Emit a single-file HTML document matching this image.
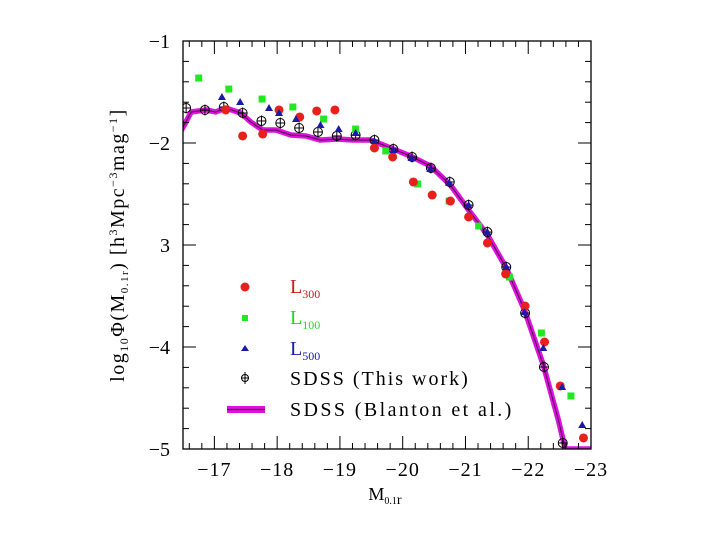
<!DOCTYPE html>
<html><head><meta charset="utf-8">
<style>
html,body{margin:0;padding:0;background:#fff;}
svg{display:block;}
text{font-family:"Liberation Serif",serif;}
</style></head>
<body>
<svg id="chart" width="720" height="540" viewBox="0 0 720 540" xmlns="http://www.w3.org/2000/svg">
<defs><clipPath id="clip"><rect x="183" y="41" width="408" height="408"/></clipPath></defs>
<g id="plot" clip-path="url(#clip)"></g>
<rect x="183" y="41" width="408" height="408" fill="none" stroke="#000" stroke-width="1.3"/>
<g id="axes"></g>
<text x="385" y="500" font-size="18" text-anchor="middle">M<tspan font-size="10" dy="4">0.1</tspan><tspan font-size="14">r</tspan></text>
<text transform="translate(124,245) rotate(-90)" font-size="20" letter-spacing="1.5" text-anchor="middle">log<tspan font-size="12" dy="4">10</tspan><tspan dy="-4">Φ(M</tspan><tspan font-size="11" dy="4">0.1r</tspan><tspan dy="-4">)  [h</tspan><tspan font-size="12" dy="-7">3</tspan><tspan dy="7">Mpc</tspan><tspan font-size="12" dy="-7">−3</tspan><tspan dy="7">mag</tspan><tspan font-size="12" dy="-7">−1</tspan><tspan dy="7">]</tspan></text>
<g>
  <circle cx="245" cy="287" r="4.5" fill="#e8201c"/>
  <text x="290" y="293" font-size="20" fill="#c8201c">L<tspan font-size="12" dy="5">300</tspan></text>
  <rect x="242" y="315" width="6" height="6" fill="#22e822"/>
  <text x="290" y="324" font-size="20" fill="#22d822">L<tspan font-size="12" dy="5">100</tspan></text>
  <polygon points="245,345 249,351 241,351" fill="#1a1aa8"/>
  <text x="290" y="355" font-size="20" fill="#1a1aa8">L<tspan font-size="12" dy="5">500</tspan></text>
  <g stroke="#000" fill="none" stroke-width="1"><circle cx="245" cy="378" r="3.5"/><line x1="241" y1="378" x2="249" y2="378"/><line x1="245" y1="372" x2="245" y2="384"/></g>
  <text x="290" y="385" font-size="20" letter-spacing="2">SDSS (This work)</text>
  <rect x="227" y="406" width="38" height="7" fill="#e010e0"/>
  <line x1="227" y1="409.5" x2="265" y2="409.5" stroke="#501050" stroke-width="1.2"/>
  <text x="290" y="416" font-size="20" letter-spacing="2.4">SDSS (Blanton et al.)</text>
</g>
</svg>
<script>
const xTicks=[-17,-18,-19,-20,-21,-22,-23];
const yTicks=[-1,-2,-3,-4,-5];
const yTickLabels=["−1","−2","3","−4","−5"];
const sdssM=[-16.55,-16.85,-17.15,-17.45,-17.75,-18.05,-18.35,-18.65,-18.95,-19.25,-19.55,-19.85,-20.15,-20.45,-20.75,-21.05,-21.35,-21.65,-21.95,-22.25,-22.55];
const sdssPhi=[-1.657,-1.676,-1.647,-1.706,-1.784,-1.804,-1.853,-1.892,-1.931,-1.922,-1.971,-2.059,-2.137,-2.245,-2.382,-2.608,-2.873,-3.216,-3.667,-4.196,-4.941];
const l300M=[-17.18,-17.45,-17.77,-18.03,-18.36,-18.63,-18.92,-19.55,-19.84,-20.17,-20.47,-20.76,-21.05,-21.35,-21.64,-21.95,-22.26,-22.51,-22.88];
const l300Phi=[-1.676,-1.931,-1.912,-1.676,-1.745,-1.686,-1.676,-2.049,-2.137,-2.382,-2.510,-2.569,-2.725,-2.980,-3.284,-3.598,-3.951,-4.382,-4.892];
const l100M=[-16.75,-17.23,-17.76,-18.25,-18.74,-19.25,-19.73,-20.24,-20.74,-21.21,-21.70,-22.21,-22.68];
const l100Phi=[-1.363,-1.471,-1.569,-1.647,-1.765,-1.863,-2.078,-2.402,-2.569,-2.814,-3.314,-3.863,-4.480];
const l500M=[-17.12,-17.41,-17.87,-18.03,-18.30,-18.69,-18.98,-19.25,-19.55,-19.85,-20.14,-20.44,-20.74,-21.05,-21.35,-21.65,-21.94,-22.24,-22.54,-22.86];
const l500Phi=[-1.549,-1.598,-1.657,-1.706,-1.765,-1.824,-1.863,-1.902,-1.980,-2.069,-2.147,-2.255,-2.392,-2.608,-2.873,-3.216,-3.657,-4.010,-4.392,-4.765];
const blantonM=[-16.45,-16.52,-16.63,-16.87,-17.02,-17.18,-17.42,-17.58,-17.77,-17.98,-18.22,-18.46,-18.69,-18.96,-19.20,-19.49,-19.81,-20.12,-20.44,-20.76,-21.05,-21.35,-21.65,-21.94,-22.24,-22.48,-22.59,-23.1];
const blantonPhi=[-1.90,-1.824,-1.696,-1.676,-1.696,-1.657,-1.706,-1.794,-1.873,-1.873,-1.922,-1.931,-1.971,-1.961,-1.971,-1.971,-2.049,-2.127,-2.225,-2.412,-2.657,-2.902,-3.225,-3.637,-4.176,-4.716,-5.0,-5.0];

const NS="http://www.w3.org/2000/svg";
const X0=183,X1=591,Y0=41,Y1=449,xmin=-16.5,xmax=-23.0,ymin=-5,ymax=-1;
function sx(m){return X0+(m-xmin)/(xmax-xmin)*(X1-X0);}
function sy(v){return Y1-(v-ymin)/(ymax-ymin)*(Y1-Y0);}
function mk(tag,attrs,parent){const e=document.createElementNS(NS,tag);for(const k in attrs)e.setAttribute(k,attrs[k]);parent.appendChild(e);return e;}
const plot=document.getElementById('plot'),axes=document.getElementById('axes');

for(let i=0;i<=33;i++){
  const m=-16.6-0.2*i; if(m<xmax-0.001)break;
  const major=Math.abs(m-Math.round(m))<0.01;
  const L=major?13:6,x=sx(m);
  const t1=mk('line',{x1:x,y1:Y1,x2:x,y2:Y1-L,stroke:'#000','stroke-width':1},axes);
  
  
  const t2=mk('line',{x1:x,y1:Y0,x2:x,y2:Y0+L,stroke:'#000','stroke-width':1},axes);
  
  
}
xTicks.forEach(m=>{
  const t=mk('text',{x:sx(m),y:476,'font-size':20,'letter-spacing':1,'text-anchor':'middle'},axes);
  t.textContent='−'+Math.abs(m);
  
  
});
for(let i=0;i<=20;i++){
  const v=-5+0.2*i,major=i%5===0,L=major?13:6,y=sy(v);
  const t1=mk('line',{x1:X0,y1:y,x2:X0+L,y2:y,stroke:'#000','stroke-width':1},axes);
  
  
  const t2=mk('line',{x1:X1,y1:y,x2:X1-L,y2:y,stroke:'#000','stroke-width':1},axes);
  
  
}
yTicks.forEach((v,i)=>{
  const t=mk('text',{x:170,y:sy(v)+7,'font-size':20,'text-anchor':'end'},axes);
  t.textContent=yTickLabels[i];
  
  
});

const pts=blantonM.map((m,i)=>sx(m)+','+sy(blantonPhi[i])).join(' ');
const band=mk('polyline',{points:pts,fill:'none',stroke:'#e010e0','stroke-width':5.5,'stroke-linejoin':'round'},plot);


const bl=mk('polyline',{points:pts,fill:'none',stroke:'#501050','stroke-width':1.1},plot);



sdssM.forEach((m,i)=>{
  const x=sx(m),y=sy(sdssPhi[i]);
  const g=mk('g',{stroke:'#000',fill:'none','stroke-width':1},plot);
  
  
  mk('circle',{cx:x,cy:y,r:4.5},g);
  mk('line',{x1:x-4.5,y1:y,x2:x+4.5,y2:y},g);
  mk('line',{x1:x,y1:y-5.5,x2:x,y2:y+5.5},g);
});
l100M.forEach((m,i)=>{
  const r=mk('rect',{x:sx(m)-3.5,y:sy(l100Phi[i])-3.5,width:7,height:7,fill:'#22e822'},plot);
  
  
});
l300M.forEach((m,i)=>{
  const c=mk('circle',{cx:sx(m),cy:sy(l300Phi[i]),r:4.5,fill:'#e8201c'},plot);
  
  
});
l500M.forEach((m,i)=>{
  const x=sx(m),y=sy(l500Phi[i]);
  const p=mk('polygon',{points:`${x},${y-4} ${x+4},${y+3} ${x-4},${y+3}`,fill:'#1a1aa8'},plot);
  
  
});
</script>
</body></html>
